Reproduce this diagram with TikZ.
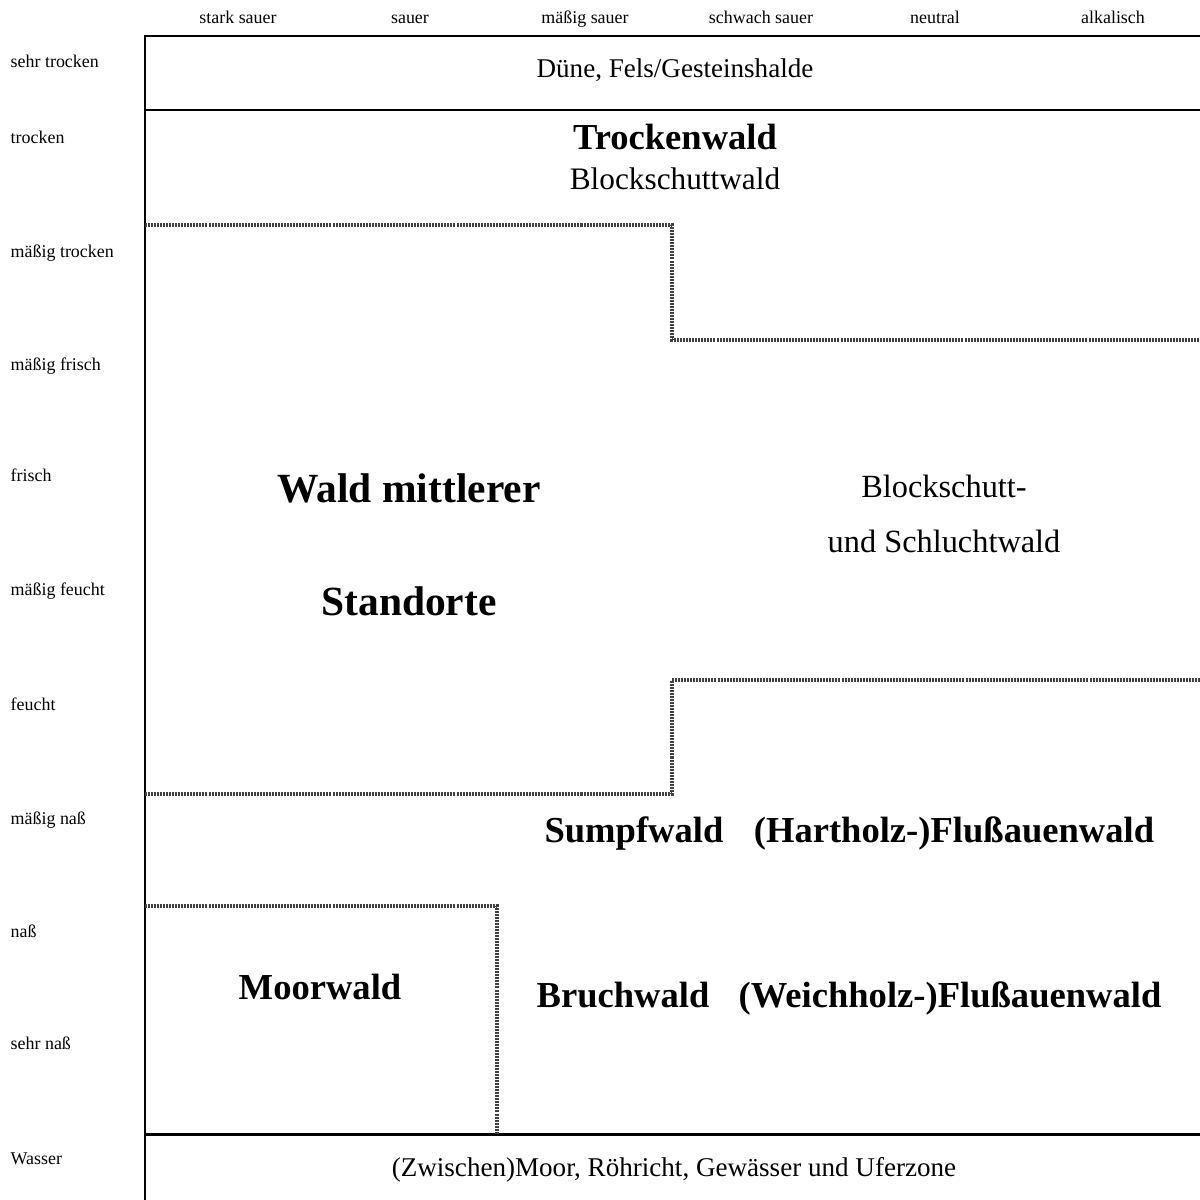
\documentclass[tikz,border=0pt]{standalone}
\usepackage{fontspec}
\setmainfont{Liberation Serif}
\usepackage{tikz}

\tikzset{
  axis/.style={font=\fontsize{5.1}{6}\selectfont, inner sep=0pt, text height=0.68em, text depth=0.2em},
  zone/.style={font=\fontsize{7.7}{9}\selectfont, inner sep=0pt, text height=0.68em, text depth=0.2em},
  wald/.style={font=\fontsize{10.4}{12}\selectfont\bfseries, inner sep=0pt, text height=0.68em, text depth=0.2em},
  grenze/.style={line width=1pt, black!75, dash pattern=on 0.57pt off 0.29pt},
  rand/.style={line width=0.85pt}
}

\begin{document}
\begin{tikzpicture}[x=0.01cm, y=-0.01cm]
\useasboundingbox (0,0) rectangle (1200,1200);
% Kopfzeile
\node[axis] (ss) at (238,15) {stark sauer};
\node[axis] (s) at (410,15) {sauer};
\node[axis] (ms) at (585,15) {mäßig sauer};
\node[axis] (sws) at (761,15) {schwach sauer};
\node[axis] (neu) at (935,15) {neutral};
\node[axis] (alk) at (1113,15) {alkalisch};
% linke Spalte
\node[axis, anchor=west] (st) at (10,59) {sehr trocken};
\node[axis, anchor=west] (tr) at (10,135) {trocken};
\node[axis, anchor=west] (mt) at (10,249) {mäßig trocken};
\node[axis, anchor=west] (mfr) at (10,362) {mäßig frisch};
\node[axis, anchor=west] (fr) at (10,473) {frisch};
\node[axis, anchor=west] (mfe) at (10,587) {mäßig feucht};
\node[axis, anchor=west] (fe) at (10,702) {feucht};
\node[axis, anchor=west] (mn) at (10,816) {mäßig naß};
\node[axis, anchor=west] (n) at (10,929) {naß};
\node[axis, anchor=west] (sn) at (10,1041) {sehr naß};
\node[axis, anchor=west] (w) at (10,1156) {Wasser};
% Rahmen
\draw[rand] (1200,36) -- (145,36) -- (145,1200);
\draw[rand] (145,110) -- (1200,110);
\draw[rand] (145,1134) -- (1200,1134);
% Grenzen
\draw[grenze] (145,225) -- (672,225) -- (672,340) -- (1200,340);
\draw[grenze] (145,794) -- (672,794) -- (672,680) -- (1200,680);
\draw[grenze] (145,906) -- (497,906) -- (497,1134);
% Zonen
\node[zone] (duene) at (675,69) {Düne, Fels/Gesteinshalde};
\node[wald] (trocken) at (675,141) {Trockenwald};
\node[zone, font=\fontsize{8.9}{10}\selectfont] (block) at (675,181) {Blockschuttwald};
\node[wald, font=\fontsize{11.8}{14}\selectfont\bfseries] (mittel1) at (409,494) {Wald mittlerer};
\node[wald, font=\fontsize{11.8}{14}\selectfont\bfseries] (mittel2) at (409,607) {Standorte};
\node[zone, font=\fontsize{9.2}{11}\selectfont] (schlucht1) at (944,489) {Blockschutt-};
\node[zone, font=\fontsize{9.2}{11}\selectfont] (schlucht2) at (944,544) {und Schluchtwald};
\node[wald] (sumpf) at (634,834) {Sumpfwald};
\node[wald] (hart) at (954,834) {(Hartholz-)Flußauenwald};
\node[wald] (moor) at (320,991) {Moorwald};
\node[wald] (bruch) at (623,999) {Bruchwald};
\node[wald] (weich) at (950,999) {(Weichholz-)Flußauenwald};
\node[zone] (wasser) at (674,1168) {(Zwischen)Moor, Röhricht, Gewässer und Uferzone};
\end{tikzpicture}
\end{document}
